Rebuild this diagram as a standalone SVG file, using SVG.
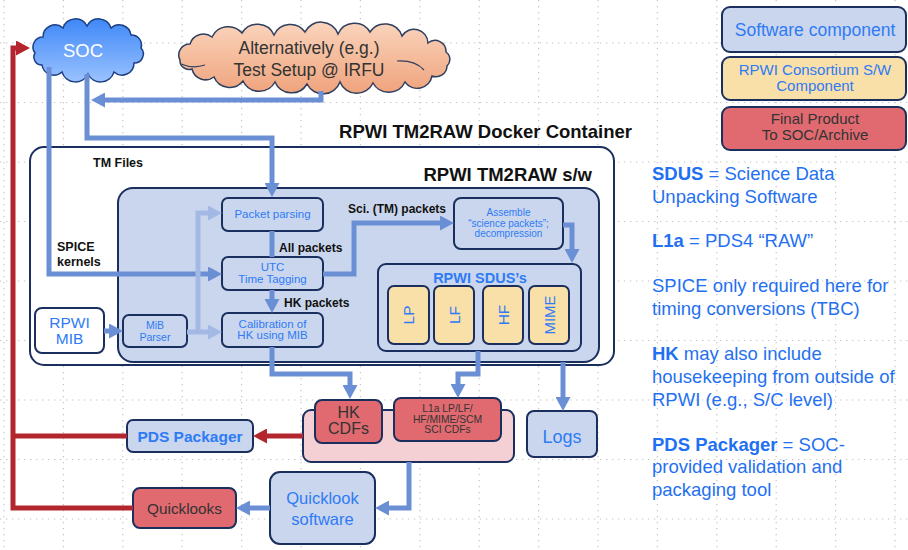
<svg xmlns="http://www.w3.org/2000/svg" width="908" height="550" viewBox="0 0 908 550">
<defs>
<style>
.t{font-family:"Liberation Sans",Arial,sans-serif}
.b{font-weight:bold}
.bl{fill:#2e7bf6}
.rb{fill:#1f70f2}
.dk{fill:#333333}
.bk{fill:#111111}
.box{fill:#cad6ed;stroke:#1b2f5e;stroke-width:2}
.wbox{fill:#ffffff;stroke:#1b2f5e;stroke-width:2}
.yel{fill:#f9dfa8;stroke:#1b2f5e;stroke-width:2}
.red{fill:#e06a70;stroke:#1b2f5e;stroke-width:2}
.pink{fill:#f4d0d4;stroke:#1b2f5e;stroke-width:2}
.c{fill:none;stroke:#6b8fd4;stroke-width:5}
.cl{fill:none;stroke:#a3b9e4;stroke-width:5}
.cr{fill:none;stroke:#b3262e;stroke-width:5}
.grid{fill:none;stroke:#c4c4c4;stroke-width:1.2;stroke-dasharray:1.3 4.7}
</style>
<marker id="ab" markerUnits="userSpaceOnUse" markerWidth="14" markerHeight="15" refX="1" refY="7.5" orient="auto"><path d="M0,0 L14,7.5 L0,15 Z" fill="#6b8fd4"/></marker>
<marker id="al" markerUnits="userSpaceOnUse" markerWidth="14" markerHeight="15" refX="1" refY="7.5" orient="auto"><path d="M0,0 L14,7.5 L0,15 Z" fill="#a3b9e4"/></marker>
<marker id="ar" markerUnits="userSpaceOnUse" markerWidth="14" markerHeight="15" refX="1" refY="7.5" orient="auto"><path d="M0,0 L14,7.5 L0,15 Z" fill="#b3262e"/></marker>
<linearGradient id="gsoc" x1="0" y1="0" x2="0" y2="1"><stop offset="0" stop-color="#3f88f7"/><stop offset="1" stop-color="#9ac2ff"/></linearGradient>
<linearGradient id="galt" x1="0" y1="0" x2="0" y2="1"><stop offset="0" stop-color="#fad4bc"/><stop offset="1" stop-color="#efa37c"/></linearGradient>
</defs>
<rect width="908" height="550" fill="#ffffff"/>
<path class="grid" d="M4,0V550M63.4,0V550M122.8,0V550M182.2,0V550M241.6,0V550M301,0V550M360.4,0V550M419.8,0V550M479.2,0V550M538.6,0V550M598,0V550M657.4,0V550M716.8,0V550M776.2,0V550M835.6,0V550M895,0V550M0,43H908M0,102.5H908M0,162H908M0,221.5H908M0,281H908M0,340.5H908M0,400H908M0,459.5H908M0,519H908"/>

<g id="soc">
<path d="M35,53 A10,10 0 0 1 43,37 A12,12 0 0 1 63,28 A13,13 0 0 1 87,26 A13,13 0 0 1 111,28 A12,12 0 0 1 131,35 A10,10 0 0 1 141,48 A9,9 0 0 1 134,63 A12,12 0 0 1 114,72 A14,14 0 0 1 88,74 A14,14 0 0 1 62,72 A12,12 0 0 1 42,65 A8,8 0 0 1 35,53 Z" fill="url(#gsoc)" stroke="#1c3f86" stroke-width="1.5"/>
<text class="t" x="83" y="56.5" font-size="18.5" fill="#ffffff" text-anchor="middle">SOC</text>
</g>

<g id="alt">
<path d="M180,60 A11,11 0 0 1 190,44 A14,14 0 0 1 212,37 A18,18 0 0 1 242,33 A18,18 0 0 1 274,35 A18,18 0 0 1 305,32 A18,18 0 0 1 338,34 A18,18 0 0 1 370,32 A18,18 0 0 1 402,36 A14,14 0 0 1 428,43 A11,11 0 0 1 446,52 A9,9 0 0 1 447,66 A11,11 0 0 1 432,76 A15,15 0 0 1 405,82 A18,18 0 0 1 373,83 A18,18 0 0 1 340,82 A18,18 0 0 1 307,84 A18,18 0 0 1 275,82 A18,18 0 0 1 243,81 A17,17 0 0 1 214,77 A14,14 0 0 1 192,69 A9,9 0 0 1 180,60 Z" fill="url(#galt)" stroke="#2e3f5f" stroke-width="1.5"/>
<path d="M181,64 Q193,69 205,65 M397,61 Q415,60 424,70" fill="none" stroke="#2e3f5f" stroke-width="1.2"/>
<text class="t dk" x="309" y="54" font-size="17.5" text-anchor="middle">Alternatively (e.g.)</text>
<text class="t dk" x="309" y="76" font-size="17.5" text-anchor="middle">Test Setup @ IRFU</text>
</g>

<g id="docker">
<rect x="30" y="147" width="584" height="218" rx="14" class="wbox"/>
<text class="t b bk" x="632" y="138" font-size="18.5" text-anchor="end">RPWI TM2RAW Docker Container</text>
<text class="t b bk" x="93" y="167" font-size="12.5">TM Files</text>
<text class="t b bk" x="57" y="251" font-size="12.5">SPICE</text>
<text class="t b bk" x="57" y="265.5" font-size="12.5">kernels</text>
</g>

<g id="sw">
<rect x="118" y="188" width="481" height="174" rx="15" class="box"/>
<text class="t b bk" x="592" y="180.5" font-size="18.5" text-anchor="end">RPWI TM2RAW s/w</text>
</g>

<g id="packet-parsing">
<rect x="222" y="198" width="101" height="33" rx="6" class="box"/>
<text class="t bl" x="272.5" y="217.5" font-size="11.5" text-anchor="middle">Packet parsing</text>
</g>

<g id="utc">
<rect x="222" y="257" width="101" height="33" rx="6" class="box"/>
<text class="t bl" x="272.5" y="271" font-size="11.5" text-anchor="middle">UTC</text>
<text class="t bl" x="272.5" y="282.5" font-size="11.5" text-anchor="middle">Time Tagging</text>
</g>

<g id="calibration">
<rect x="222" y="313" width="101" height="34" rx="6" class="box"/>
<text class="t bl" x="272.5" y="327.5" font-size="11.5" text-anchor="middle">Calibration of</text>
<text class="t bl" x="272.5" y="339" font-size="11.5" text-anchor="middle">HK using MIB</text>
</g>

<g id="mib-parser">
<rect x="123" y="315" width="64" height="32" rx="6" class="box"/>
<text class="t bl" x="155" y="329" font-size="10.5" text-anchor="middle">MiB</text>
<text class="t bl" x="155" y="340.5" font-size="10.5" text-anchor="middle">Parser</text>
</g>

<g id="rpwi-mib">
<rect x="35" y="308" width="69" height="45" rx="7" class="wbox"/>
<text class="t bl" x="69.5" y="327.5" font-size="15.5" text-anchor="middle">RPWI</text>
<text class="t bl" x="69.5" y="343.5" font-size="15.5" text-anchor="middle">MIB</text>
</g>

<g id="assemble">
<rect x="454" y="198" width="109" height="51" rx="7" class="box"/>
<text class="t bl" x="508.5" y="216" font-size="10" text-anchor="middle">Assemble</text>
<text class="t bl" x="508.5" y="226.5" font-size="10" text-anchor="middle">“science packets”;</text>
<text class="t bl" x="508.5" y="237" font-size="10" text-anchor="middle">decompression</text>
</g>

<g id="sdus">
<rect x="378" y="264" width="203" height="87" rx="8" class="box"/>
<text class="t b bl" x="480" y="283" font-size="14.5" text-anchor="middle">RPWI SDUS’s</text>
<rect x="388" y="286" width="41" height="58" rx="6" class="yel"/>
<rect x="434" y="286" width="40" height="58" rx="6" class="yel"/>
<rect x="483" y="286" width="40" height="58" rx="6" class="yel"/>
<rect x="529" y="286" width="40" height="58" rx="6" class="yel"/>
<text class="t bl" transform="translate(408.5,315) rotate(-90)" y="5.5" font-size="15.5" text-anchor="middle">LP</text>
<text class="t bl" transform="translate(454,315) rotate(-90)" y="5.5" font-size="15.5" text-anchor="middle">LF</text>
<text class="t bl" transform="translate(503,315) rotate(-90)" y="5.5" font-size="15.5" text-anchor="middle">HF</text>
<text class="t bl" transform="translate(549,315) rotate(-90)" y="5.5" font-size="15" text-anchor="middle">MIME</text>
</g>

<g id="cdfs">
<rect x="303" y="410" width="211" height="52" rx="8" class="pink"/>
<rect x="315" y="400" width="67" height="43" rx="7" class="red"/>
<text class="t dk" x="348.5" y="417.5" font-size="16" text-anchor="middle">HK</text>
<text class="t dk" x="348.5" y="434" font-size="16" text-anchor="middle">CDFs</text>
<rect x="394" y="398" width="107" height="43" rx="7" class="red"/>
<text class="t dk" x="447.5" y="412" font-size="10.3" text-anchor="middle">L1a LP/LF/</text>
<text class="t dk" x="447.5" y="422.5" font-size="10.3" text-anchor="middle">HF/MIME/SCM</text>
<text class="t dk" x="447.5" y="433" font-size="10.3" text-anchor="middle">SCI CDFs</text>
</g>

<g id="logs">
<rect x="527" y="411" width="70" height="46" rx="7" class="box"/>
<text class="t bl" x="562" y="442.5" font-size="18" text-anchor="middle">Logs</text>
</g>

<g id="pds-packager">
<rect x="127" y="420" width="126" height="32" rx="6" class="box"/>
<text class="t b bl" x="190" y="442" font-size="15.5" text-anchor="middle">PDS Packager</text>
</g>

<g id="quicklooks">
<rect x="133" y="488" width="103" height="40" rx="7" class="red"/>
<text class="t dk" x="184.5" y="513.5" font-size="15.3" text-anchor="middle">Quicklooks</text>
</g>

<g id="quicklook-sw">
<rect x="270" y="472" width="105" height="72" rx="10" class="box"/>
<text class="t bl" x="322.5" y="504" font-size="16.5" text-anchor="middle">Quicklook</text>
<text class="t bl" x="322.5" y="525" font-size="16.5" text-anchor="middle">software</text>
</g>

<g id="legend">
<rect x="722" y="7" width="184" height="45" rx="8" class="box"/>
<text class="t bl" x="815" y="36" font-size="17.5" text-anchor="middle">Software component</text>
<rect x="722" y="57" width="184" height="43" rx="8" class="yel"/>
<text class="t bl" x="815" y="75" font-size="15" text-anchor="middle">RPWI Consortium S/W</text>
<text class="t bl" x="815" y="90.5" font-size="15" text-anchor="middle">Component</text>
<rect x="722" y="107" width="184" height="43" rx="8" class="red"/>
<text class="t dk" x="815" y="124" font-size="15" text-anchor="middle">Final Product</text>
<text class="t dk" x="815" y="139.5" font-size="15" text-anchor="middle">To SOC/Archive</text>
</g>

<g id="notes" class="t rb" font-size="18.5">
<text x="652" y="180"><tspan font-weight="bold">SDUS</tspan> = Science Data</text>
<text x="652" y="202.5">Unpacking Software</text>
<text x="652" y="247"><tspan font-weight="bold">L1a</tspan> = PDS4 “RAW”</text>
<text x="652" y="292">SPICE only required here for</text>
<text x="652" y="315">timing conversions (TBC)</text>
<text x="652" y="360"><tspan font-weight="bold">HK</tspan> may also include</text>
<text x="652" y="383">housekeeping from outside of</text>
<text x="652" y="405.5">RPWI (e.g., S/C level)</text>
<text x="652" y="451"><tspan font-weight="bold">PDS Packager</tspan> = SOC-</text>
<text x="652" y="473">provided validation and</text>
<text x="652" y="495.5">packaging tool</text>
</g>

<g id="connectors">
<path class="c" d="M321,91 V100 H104" marker-end="url(#ab)"/>
<path class="c" d="M87,74 V138 H272 V184" marker-end="url(#ab)"/>
<path class="c" d="M49,67 V274 H209" marker-end="url(#ab)"/>
<path class="c" d="M272,231 V257"/>
<path class="c" d="M272,290 V300" marker-end="url(#ab)"/>
<path class="c" d="M323,274 H354 V223 H441" marker-end="url(#ab)"/>
<path class="c" d="M563,225 H572 V250" marker-end="url(#ab)"/>
<path class="c" d="M104,331 H110" marker-end="url(#ab)"/>
<path class="cl" d="M187,332 H209" marker-end="url(#al)"/>
<path class="cl" d="M198,332 V213 H209" marker-end="url(#al)"/>
<path class="c" d="M272,347 V374 H350 V386" marker-end="url(#ab)"/>
<path class="c" d="M478,351 V374 H458 V385" marker-end="url(#ab)"/>
<path class="c" d="M563,362 V398" marker-end="url(#ab)"/>
<path class="c" d="M409,462 V508 H388" marker-end="url(#ab)"/>
<path class="c" d="M270,508 H249" marker-end="url(#ab)"/>
<path class="cr" d="M303,436 H266" marker-end="url(#ar)"/>
<path class="cr" d="M127,436 H13"/>
<path class="cr" d="M133,508 H13 V48 H17" marker-end="url(#ar)"/>
<text class="t b bk" x="279" y="251.5" font-size="12">All packets</text>
<text class="t b bk" x="284" y="306.5" font-size="12">HK packets</text>
<text class="t b bk" x="348" y="213" font-size="12">Sci. (TM) packets</text>
</g>
</svg>
